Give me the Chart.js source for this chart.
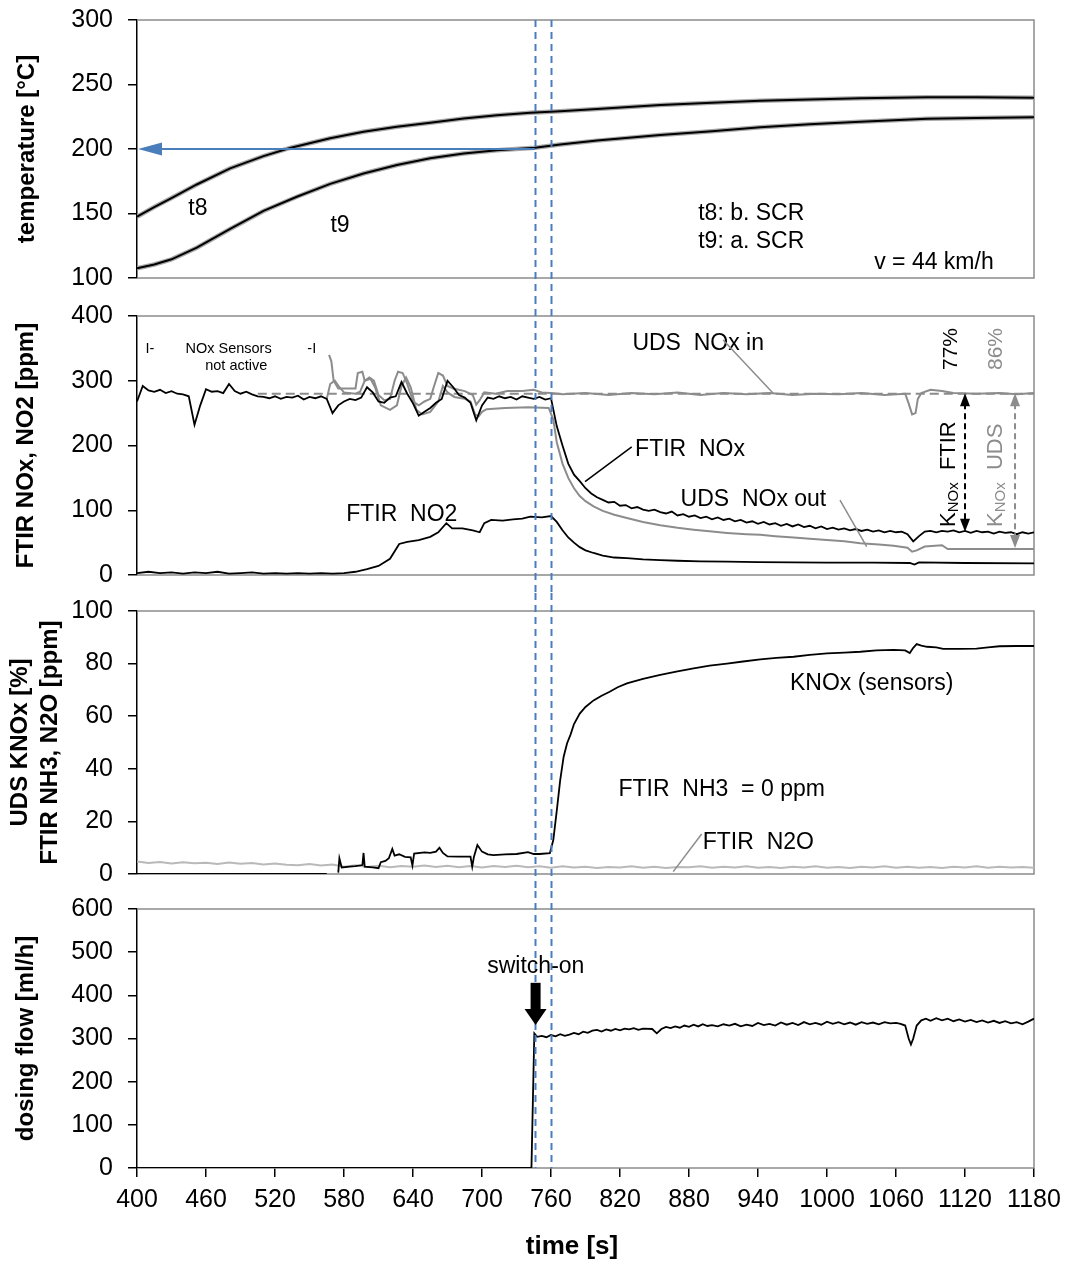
<!DOCTYPE html>
<html>
<head>
<meta charset="utf-8">
<script src="https://cdn.jsdelivr.net/npm/chart.js@4.4.1/dist/chart.umd.min.js"></script>
<style>
  html, body { margin: 0; padding: 0; background: #fff; }
  #wrap { position: relative; width: 1069px; height: 1262px; }
  .panel { position: absolute; left: 0; width: 1069px; }
  canvas { display: block; }
</style>
</head>
<body>
<div id="wrap">
  <div class="panel" style="top:0px"><canvas id="temp-chart" width="1069" height="297"></canvas></div>
  <div class="panel" style="top:297px"><canvas id="nox-chart" width="1069" height="296"></canvas></div>
  <div class="panel" style="top:593px"><canvas id="knox-chart" width="1069" height="298"></canvas></div>
  <div class="panel" style="top:891px"><canvas id="dosing-chart" width="1069" height="371"></canvas></div>
</div>
<script>
// x axis (time [s]) tick labels and the two switch-on markers
const xTicks = [400, 460, 520, 580, 640, 700, 760, 820, 880, 940, 1000, 1060, 1120, 1180];
const markerTimes = [746, 760];

// panel 1: temperatures [°C], [time, value]
const t8 = [[400,147.5],[415,155],[430,162],[452,172.5],[481,185],[510,194.5],[533,200.8],[568,208.3],[597,213.4],[626,217.3],[655,220.4],[684,223.6],[713,226.2],[742,228.1],[768,229.2],[800,231],[855,234.1],[900,235.9],[942,237.4],[985,238.4],[1029,239.3],[1087,240.1],[1130,240.2],[1180,239.8]];
const t9 = [[400,107.5],[415,110.5],[430,114.5],[452,123.5],[481,138],[510,152],[539,163],[568,173],[597,181],[626,187.6],[655,192.8],[684,196.5],[713,199],[746,201],[768,203.5],[800,206.5],[855,210.9],[900,213.8],[942,216.8],[985,219.2],[1029,221.2],[1087,223.4],[1130,224.1],[1180,224.6]];
const refTempArrow = [[746,200],[400,200]];

// panel 2: FTIR NOx, sampled every 5 s from 400 s
const ftirNoxStart = 400, ftirNoxStep = 5;
const ftirNox = [
  268, 292, 285, 283, 286, 281, 284, 280, 279, 276,
  232, 262, 287, 283, 284, 281, 295, 284, 280, 283,
  279, 276, 275, 273, 276, 272, 275, 274, 277, 271,
  275, 273, 276, 272, 250, 262, 268, 272, 270, 274,
  290, 282, 268, 266, 274, 276, 298, 280, 265, 246,
  252, 258, 266, 272, 300, 290, 278, 274, 266, 239,
  262, 274, 272, 276, 273, 275, 271, 276, 274, 272,
  275, 271, 273, 230, 200, 172, 155, 145, 134, 126,
  120, 116, 112, 113, 107, 108, 103, 105, 101, 99,
  101, 97, 95, 98, 92, 94, 90, 92, 88, 90,
  86, 89, 85, 87, 83, 85, 81, 83, 79, 82,
  78, 80, 76, 79, 75, 78, 74, 76, 72, 75,
  71, 73, 70, 72, 69, 71, 68, 70, 67, 69,
  66, 68, 66, 67, 63, 52, 60, 67, 68, 66,
  68, 67, 69, 66, 68, 65, 68, 66, 67, 64,
  67, 65, 66, 63, 66, 64, 66
];
const ftirNo2 = [[400,3],[410,5],[420,3],[430,4],[440,2],[450,4],[460,3],[470,5],[480,2],[490,3],[500,4],[510,2],[520,3],[530,2],[540,3],[550,2],[560,3],[570,2],[580,3],[590,5],[600,9],[610,14],[620,25],[628,48],[635,51],[645,54],[655,59],[662,66],[669,80],[674,72],[683,72],[692,69],[698,66],[702,80],[708,85],[718,84],[727,86],[735,87],[742,90],[752,89],[760,91],[765,82],[770,69],[775,58],[780,50],[785,43],[790,38],[797,34],[805,30],[815,27],[826,26],[840,24],[855,23],[870,22],[890,21],[913,20.6],[940,20],[970,19.5],[1000,19],[1040,19],[1072,18.5],[1076,16],[1080,19.5],[1120,18.5],[1180,18]];
const udsNoxIn = [[567,340],[569,330],[571,300],[575,288],[590,288],[592,312],[596,314],[598,300],[602,305],[606,300],[610,278],[615,270],[620,272],[624,300],[627,314],[631,312],[635,295],[640,268],[645,262],[650,268],[655,272],[658,290],[662,312],[666,308],[670,292],[675,288],[685,284],[692,278],[695,263],[698,270],[702,282],[712,280],[722,284],[735,284],[745,286],[752,282],[760,281],[770,279],[790,281],[810,278],[830,281],[850,279],[870,282],[890,278],[910,281],[930,279],[950,281],[970,278],[990,280],[1010,279],[1030,281],[1050,278],[1068,280],[1071,265],[1074,248],[1077,250],[1079,272],[1082,281],[1090,286],[1100,284],[1110,281],[1130,280],[1150,281],[1165,279],[1180,281]];
const udsNoxOut = [[565,272],[568,295],[572,300],[576,290],[580,282],[590,280],[594,283],[598,300],[603,303],[607,290],[612,262],[620,255],[626,262],[630,292],[634,305],[638,290],[643,255],[648,248],[655,252],[662,268],[666,292],[670,282],[676,275],[685,272],[690,268],[694,248],[697,245],[700,252],[704,256],[720,258],[740,259],[758,258],[762,240],[765,205],[770,172],[775,150],[780,134],[785,122],[790,114],[797,106],[805,99],[815,93],[826,88],[840,82],[855,77],[870,73],[884,70],[900,67],[913,65],[930,63],[942,62],[955,60],[971,58],[985,56],[1000,54],[1015,52],[1029,49],[1045,47],[1058,45],[1070,42],[1074,36],[1078,38],[1085,44],[1100,46],[1105,40],[1130,40],[1180,40]];
const noxInLevel = [[505,280],[1180,280]];
const knoxFtir = [[1120,280.6],[1120,66.9]];   // K_NOx FTIR span
const knoxUds = [[1163.5,280.6],[1163.5,41.7]]; // K_NOx UDS span

// panel 3: KNOx [%] and FTIR N2O [ppm]
const knox = [[400,0],[565,0],[570,null],[575,0.5],[576,6],[578,2.5],[585,2.8],[590,3],[596,3.4],[597,8],[598,2.8],[605,2.5],[610,2.2],[612,4.5],[616,5],[619,6],[622,9.5],[624,7],[628,7.5],[633,6.5],[638,6.3],[639.5,3.2],[641,7.8],[650,8.2],[655,8],[660,8.5],[663,10],[666,8],[670,6.7],[680,6.6],[690,6.6],[691.5,2.8],[693,6.6],[696,11],[700,8.5],[705,7.5],[710,7.2],[720,7.5],[730,7.6],[740,8.3],[745,7.6],[750,7.6],[759,7.9],[762,12.9],[765,24],[768,35.7],[771,44.6],[774,49.7],[777,53],[780,57],[785,61],[790,63.5],[797,66],[804,67.8],[811,69.3],[818,71],[826,72.5],[840,74.2],[855,75.7],[870,77],[884,78.2],[898,79.2],[913,80],[927,80.8],[942,81.6],[956,82.2],[971,82.6],[985,83.3],[1000,83.9],[1015,84.2],[1029,84.5],[1043,85],[1058,85.2],[1068,85],[1072,84],[1075,86],[1078,87.4],[1082,86.8],[1087,86.4],[1095,86.2],[1101,85.6],[1115,85.6],[1130,85.7],[1140,86.2],[1150,86.6],[1165,86.7],[1180,86.7]];
const n2oStart = 400, n2oStep = 10;
const ftirN2o = [
  4.8, 4.2, 4.6, 4.0, 4.5, 4.1, 4.3, 3.8, 4.4, 3.9,
  4.2, 3.6, 4.0, 3.5, 3.3, 3.8, 3.2, 3.6, 2.8, 3.3,
  2.7, 3.1, 2.6, 3.0, 2.8, 3.2, 2.7, 3.1, 2.6, 3.0,
  2.5, 3.0, 2.7, 3.1, 2.6, 2.9, 2.4, 2.9, 2.5, 2.8,
  2.3, 2.7, 2.5, 2.9, 2.4, 2.8, 2.3, 2.7, 2.6, 2.9,
  2.4, 2.8, 2.5, 2.9, 2.4, 2.7, 2.3, 2.8, 2.5, 2.9,
  2.4, 2.7, 2.3, 2.8, 2.5, 2.9, 2.4, 2.8, 2.4, 2.7,
  2.3, 2.8, 2.5, 2.9, 2.4, 2.8, 2.5, 2.7, 2.4
];

// panel 4: urea dosing flow [ml/h]
const dosing = [[400,0],[743,0],[745.5,312],[748,304],[752,306],[756,303],[760,308],[764,305],[768,310],[772,306],[776,309],[780,313],[784,310],[788,316],[792,313],[796,318],[800,320],[804,316],[808,321],[812,318],[816,322],[820,319],[824,323],[828,321],[832,324],[836,320],[840,323],[848,322],[852,312],[856,322],[860,327],[864,324],[868,328],[872,325],[876,330],[880,327],[884,332],[888,328],[892,333],[896,329],[900,331],[905,328],[910,333],[915,330],[920,334],[925,328],[930,332],[935,329],[940,336],[945,331],[950,334],[955,330],[960,337],[965,332],[970,336],[975,331],[980,338],[985,333],[990,336],[995,332],[1000,339],[1005,334],[1010,338],[1015,333],[1020,337],[1025,332],[1030,338],[1035,334],[1040,337],[1045,333],[1050,338],[1055,335],[1060,336],[1064,334],[1068,330],[1071,300],[1073,286],[1075,300],[1078,330],[1082,342],[1086,346],[1090,341],[1095,347],[1100,342],[1105,346],[1110,340],[1115,344],[1120,339],[1125,343],[1130,338],[1135,342],[1140,337],[1145,341],[1150,336],[1155,340],[1160,335],[1165,338],[1170,333],[1175,339],[1180,346]];
const switchOnArrow = [[746.6,429],[746.6,331]];

const FONT = '"Liberation Sans", Arial, Helvetica, sans-serif';
const BLACK = '#000000';
const GRAY = '#8c8c8c';
const LIGHT = '#b9b9b9';
const BLUE = '#4a7ebb';

function pts(pairs) {
    return pairs.map(p => ({ x: p[0], y: p[1] }));
}

function seq(start, step, vals) {
    return vals.map((v, i) => ({ x: start + i * step, y: v }));
}

function line(data, color, width, extra) {
    return Object.assign({
        data: data,
        borderColor: color,
        borderWidth: width,
        pointRadius: 0,
        tension: 0,
        fill: false,
        spanGaps: false
    }, extra || {});
}

// --- drawing helpers (all positions go through the chart scales) ---
function P(chart, t, v) {
    return [chart.scales.x.getPixelForValue(t), chart.scales.y.getPixelForValue(v)];
}

function text(ctx, s, x, y, size, color, align, weight) {
    ctx.save();
    ctx.font = (weight ? weight + ' ' : '') + size + 'px ' + FONT;
    ctx.fillStyle = color || BLACK;
    ctx.textAlign = align || 'center';
    ctx.textBaseline = 'middle';
    ctx.fillText(s, x, y);
    ctx.restore();
}

function rotText(ctx, s, x, y, size, color) {
    ctx.save();
    ctx.translate(x, y);
    ctx.rotate(-Math.PI / 2);
    ctx.font = size + 'px ' + FONT;
    ctx.fillStyle = color;
    ctx.textAlign = 'left';
    ctx.textBaseline = 'alphabetic';
    ctx.fillText(s, 0, 0);
    ctx.restore();
}

// rotated "K_NOx  <tail>" with subscript
function kText(ctx, x, y, tail, color) {
    ctx.save();
    ctx.translate(x, y);
    ctx.rotate(-Math.PI / 2);
    ctx.fillStyle = color;
    ctx.textAlign = 'left';
    ctx.textBaseline = 'alphabetic';
    ctx.font = '22px ' + FONT;
    ctx.fillText('K', 0, 0);
    let w = ctx.measureText('K').width;
    ctx.font = '15px ' + FONT;
    ctx.fillText('NOx', w, 3.5);
    w += ctx.measureText('NOx').width;
    ctx.font = '22px ' + FONT;
    ctx.fillText('  ' + tail, w, 0);
    ctx.restore();
}

function segment(ctx, a, b, color, width, dash) {
    ctx.save();
    ctx.strokeStyle = color;
    ctx.lineWidth = width;
    ctx.setLineDash(dash || []);
    ctx.beginPath();
    ctx.moveTo(a[0], a[1]);
    ctx.lineTo(b[0], b[1]);
    ctx.stroke();
    ctx.restore();
}

// triangle head with its tip at (x, y); (dx, dy) = direction it points to
function head(ctx, x, y, dx, dy, len, half, color) {
    ctx.save();
    ctx.fillStyle = color;
    ctx.beginPath();
    ctx.moveTo(x, y);
    ctx.lineTo(x - dx * len - dy * half, y - dy * len + dx * half);
    ctx.lineTo(x - dx * len + dy * half, y - dy * len - dx * half);
    ctx.closePath();
    ctx.fill();
    ctx.restore();
}

const framePlugin = {
    id: 'frame',
    beforeDatasetsDraw(chart) {
        const { ctx, chartArea: a } = chart;
        ctx.save();
        ctx.strokeStyle = GRAY;
        ctx.lineWidth = 1.5;
        ctx.beginPath();
        ctx.moveTo(a.left, a.top);
        ctx.lineTo(a.right, a.top);
        ctx.lineTo(a.right, a.bottom);
        ctx.lineTo(a.left, a.bottom);
        ctx.stroke();
        ctx.restore();
    }
};

// blue dashed switch-on lines, running through the gaps between panels
function markerPlugin(fromArea, toArea) {
    return {
        id: 'markers',
        afterDatasetsDraw(chart) {
            const { ctx, chartArea } = chart;
            const y0 = fromArea ? chartArea.top : 0;
            const y1 = toArea ? chartArea.bottom : chart.height;
            ctx.save();
            ctx.strokeStyle = BLUE;
            ctx.lineWidth = 2;
            ctx.setLineDash([7, 5]);
            markerTimes.forEach(t => {
                const x = Math.round(chart.scales.x.getPixelForValue(t)) + 0.5;
                ctx.beginPath();
                ctx.moveTo(x, y0);
                ctx.lineTo(x, y1);
                ctx.stroke();
            });
            ctx.restore();
        }
    };
}

function notesPlugin(draw) {
    return { id: 'notes', afterDraw(chart) { draw(chart, chart.ctx); } };
}

function yAxis(min, max, step, title, titlePad) {
    return {
        min: min,
        max: max,
        afterFit: s => {
            s.width = 137;
            s.paddingTop = 0;
            s.paddingBottom = 0;
        },
        ticks: { stepSize: step, font: { family: FONT, size: 25 }, color: BLACK, padding: 15 },
        grid: { drawOnChartArea: false, drawTicks: true, tickLength: 9, color: BLACK, lineWidth: 1.5 },
        border: { display: true, color: BLACK, width: 1.5 },
        title: {
            display: true,
            text: title,
            color: BLACK,
            font: { family: FONT, size: 24, weight: 'bold', lineHeight: 1.25 },
            padding: { top: titlePad, bottom: 0 }
        }
    };
}

function xAxis(show) {
    return {
        type: 'linear',
        min: 400,
        max: 1180,
        display: show,
        afterBuildTicks: s => { s.ticks = xTicks.map(v => ({ value: v })); },
        afterFit: s => {
            if (!show) return;
            s.height = 94;
            s.paddingLeft = 0;
            s.paddingRight = 0;
        },
        ticks: {
            font: { family: FONT, size: 25 },
            color: BLACK,
            padding: 8,
            maxRotation: 0,
            autoSkip: false,
            callback: v => String(v)
        },
        grid: { drawOnChartArea: false, drawTicks: true, tickLength: 9, color: BLACK, lineWidth: 1.5 },
        border: { display: false },
        title: { display: false }
    };
}

function makePanel(id, cfg) {
    return new Chart(document.getElementById(id).getContext('2d'), {
        type: 'line',
        data: { datasets: cfg.datasets },
        options: {
            responsive: false,
            animation: false,
            layout: { padding: { left: 0, right: 35, top: cfg.padTop, bottom: cfg.padBottom } },
            plugins: { legend: { display: false }, tooltip: { enabled: false } },
            scales: { x: xAxis(cfg.showX), y: cfg.y }
        },
        plugins: [framePlugin, markerPlugin(cfg.fromArea, cfg.toArea), notesPlugin(cfg.notes)]
    });
}

// panel 1: temperature (first dataset is drawn on top)
makePanel('temp-chart', {
    padTop: 20, padBottom: 19, showX: false, fromArea: true, toArea: false,
    y: yAxis(100, 300, 50, 'temperature [°C]', 12),
    datasets: [
        line(pts(t8), BLACK, 2),
        line(pts(t9), BLACK, 2),
        line(pts(t8), '#a8a8a8', 4.5),
        line(pts(t9), '#a8a8a8', 4.5)
    ],
    notes: (chart, ctx) => {
        const a = P(chart, refTempArrow[0][0], refTempArrow[0][1]);
        const b = P(chart, refTempArrow[1][0], refTempArrow[1][1]);
        segment(ctx, a, [b[0] + 20, b[1]], BLUE, 2);
        head(ctx, b[0] + 1, b[1], -1, 0, 24, 6.5, BLUE);
        let p = P(chart, 453, 153.5); text(ctx, 't8', p[0], p[1], 23);
        p = P(chart, 576.5, 140.4); text(ctx, 't9', p[0], p[1], 23);
        p = P(chart, 888, 149.5); text(ctx, 't8: b. SCR', p[0], p[1], 23, BLACK, 'left');
        p = P(chart, 888, 128.5); text(ctx, 't9: a. SCR', p[0], p[1], 23, BLACK, 'left');
        p = P(chart, 1093, 111.6); text(ctx, 'v = 44 km/h', p[0], p[1], 23);
    }
});

// panel 2: NOx / NO2
makePanel('nox-chart', {
    padTop: 19, padBottom: 18, showX: false, fromArea: false, toArea: false,
    y: yAxis(0, 400, 100, 'FTIR NOx, NO2 [ppm]', 11),
    datasets: [
        line(seq(ftirNoxStart, ftirNoxStep, ftirNox), BLACK, 1.8),
        line(pts(ftirNo2), BLACK, 1.8),
        line(pts(udsNoxOut), GRAY, 2),
        line(pts(udsNoxIn), GRAY, 2),
        line(pts(noxInLevel), GRAY, 2, { borderDash: [9, 5] })
    ],
    notes: (chart, ctx) => {
        let p;
        p = P(chart, 411.3, 349); text(ctx, 'I-', p[0], p[1], 14.5);
        p = P(chart, 479.6, 349); text(ctx, 'NOx Sensors', p[0], p[1], 14.5);
        p = P(chart, 486.3, 323); text(ctx, 'not active', p[0], p[1], 14.5);
        p = P(chart, 552, 349); text(ctx, '-I', p[0], p[1], 14.5);
        p = P(chart, 888, 356.7); text(ctx, 'UDS  NOx in', p[0], p[1], 23);
        p = P(chart, 880.9, 193); text(ctx, 'FTIR  NOx', p[0], p[1], 23);
        p = P(chart, 936, 115.8); text(ctx, 'UDS  NOx out', p[0], p[1], 23);
        p = P(chart, 630.2, 92.7); text(ctx, 'FTIR  NO2', p[0], p[1], 23);
        segment(ctx, P(chart, 909.7, 363), P(chart, 953.2, 280.6), GRAY, 1.5);
        segment(ctx, P(chart, 830.2, 198), P(chart, 789.6, 144.1), BLACK, 1.5);
        segment(ctx, P(chart, 1011.3, 115.8), P(chart, 1034.5, 43.7), GRAY, 1.5);
        // K_NOx spans
        const f0 = P(chart, knoxFtir[0][0], knoxFtir[0][1]);
        const f1 = P(chart, knoxFtir[1][0], knoxFtir[1][1]);
        segment(ctx, [f0[0], f0[1] + 10], [f1[0], f1[1] - 10], BLACK, 2, [6, 4]);
        head(ctx, f0[0], f0[1], 0, -1, 13, 5, BLACK);
        head(ctx, f1[0], f1[1], 0, 1, 13, 5, BLACK);
        const u0 = P(chart, knoxUds[0][0], knoxUds[0][1]);
        const u1 = P(chart, knoxUds[1][0], knoxUds[1][1]);
        segment(ctx, [u0[0], u0[1] + 10], [u1[0], u1[1] - 10], GRAY, 2, [6, 4]);
        head(ctx, u0[0], u0[1], 0, -1, 13, 5, GRAY);
        head(ctx, u1[0], u1[1], 0, 1, 13, 5, GRAY);
        p = P(chart, 1111.3, 74.1); kText(ctx, p[0], p[1], 'FTIR', BLACK);
        p = P(chart, 1151.9, 74.1); kText(ctx, p[0], p[1], 'UDS', GRAY);
        p = P(chart, 1112.7, 316.6); rotText(ctx, '77%', p[0], p[1], 21, BLACK);
        p = P(chart, 1151.9, 316.6); rotText(ctx, '86%', p[0], p[1], 21, GRAY);
    }
});

// panel 3: KNOx, N2O
makePanel('knox-chart', {
    padTop: 18, padBottom: 17, showX: false, fromArea: false, toArea: false,
    y: yAxis(0, 100, 20, ['UDS KNOx [%]', 'FTIR NH3, N2O [ppm]'], 5),
    datasets: [
        line(pts(knox), BLACK, 1.8),
        line(seq(n2oStart, n2oStep, ftirN2o), LIGHT, 2)
    ],
    notes: (chart, ctx) => {
        let p;
        p = P(chart, 1038.9, 72.2); text(ctx, 'KNOx (sensors)', p[0], p[1], 23);
        p = P(chart, 908.4, 31.9); text(ctx, 'FTIR  NH3  = 0 ppm', p[0], p[1], 23);
        p = P(chart, 940.3, 11.8); text(ctx, 'FTIR  N2O', p[0], p[1], 23);
        segment(ctx, P(chart, 891, 15.2), P(chart, 866.3, 0.9), GRAY, 1.5);
    }
});

// panel 4: dosing flow, with the shared time axis
makePanel('dosing-chart', {
    padTop: 18, padBottom: 0, showX: true, fromArea: false, toArea: true,
    y: yAxis(0, 600, 100, 'dosing flow [ml/h]', 11),
    datasets: [
        line(pts(dosing), BLACK, 1.8)
    ],
    notes: (chart, ctx) => {
        let p = P(chart, 746.8, 466);
        text(ctx, 'switch-on', p[0], p[1], 23);
        const a = P(chart, switchOnArrow[0][0], switchOnArrow[0][1]);
        const b = P(chart, switchOnArrow[1][0], switchOnArrow[1][1]);
        ctx.save();
        ctx.fillStyle = BLACK;
        ctx.fillRect(a[0] - 5, a[1], 10, (b[1] - a[1]) - 14);
        ctx.restore();
        head(ctx, b[0], b[1], 0, 1, 16, 11, BLACK);
        // axis title, placed as in the original figure
        text(ctx, 'time [s]', 572, chart.height - 15, 26, BLACK, 'center', 'bold');
    }
});
</script>
</body>
</html>
